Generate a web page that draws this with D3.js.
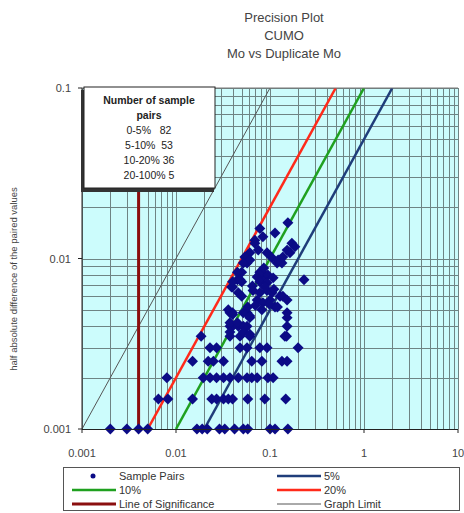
<!DOCTYPE html>
<html>
<head>
<meta charset="utf-8">
<script src="https://cdn.jsdelivr.net/npm/d3@7"></script>
<style>
  body { margin: 0; background: #fff; }
  text { font-family: Arial, "Liberation Sans", sans-serif; fill: #333; }
</style>
</head>
<body>
<svg id="chart" width="464" height="513"></svg>
<script>
// mean of pair (x) and half absolute difference (y)
var pairMean = [
  0.002, 0.003, 0.004, 0.005, 0.0167, 0.019, 0.0215, 0.029, 0.033, 0.042, 0.052, 0.058, 0.1, 0.113, 0.155,
  0.0065, 0.0082, 0.015, 0.024, 0.027, 0.032, 0.036, 0.040, 0.058, 0.088, 0.147,
  0.008, 0.0195, 0.023, 0.027, 0.032, 0.0375, 0.046, 0.057, 0.064, 0.073, 0.095, 0.108,
  0.015, 0.022, 0.025, 0.032, 0.064, 0.082, 0.134, 0.152,
  0.023, 0.027, 0.048, 0.057, 0.078, 0.093, 0.199,
  0.0185, 0.0375, 0.048, 0.061, 0.144, 0.15,
  0.0375, 0.040, 0.046, 0.057, 0.152, 0.052,
  0.061, 0.152, 0.0375, 0.045,
  0.0375, 0.040, 0.052, 0.057, 0.152, 0.036, 0.040, 0.061, 0.0375, 0.052, 0.061,
  0.066, 0.078, 0.093, 0.105, 0.128, 0.073, 0.084, 0.100, 0.113, 0.137, 0.152, 0.082,
  0.039, 0.045, 0.050, 0.057, 0.061, 0.069,
  0.040, 0.046, 0.050, 0.040, 0.050, 0.045, 0.048,
  0.078, 0.073, 0.084, 0.082, 0.095, 0.108, 0.078, 0.093, 0.23,
  0.054, 0.061, 0.052, 0.128, 0.119, 0.134, 0.105, 0.122,
  0.152, 0.137, 0.163, 0.171, 0.184, 0.069, 0.075, 0.093,
  0.084, 0.113, 0.078, 0.155,
  0.065, 0.088, 0.110, 0.070, 0.098, 0.120, 0.058, 0.086
];
var halfDiff = [
  0.001, 0.001, 0.001, 0.001, 0.001, 0.001, 0.001, 0.001, 0.001, 0.001, 0.001, 0.001, 0.001, 0.001, 0.001,
  0.0015, 0.0015, 0.0015, 0.0015, 0.0015, 0.0015, 0.0015, 0.0015, 0.0015, 0.0015, 0.0015,
  0.002, 0.002, 0.002, 0.002, 0.002, 0.002, 0.002, 0.002, 0.002, 0.002, 0.002, 0.002,
  0.0025, 0.0025, 0.0025, 0.0025, 0.0025, 0.0025, 0.0025, 0.0025,
  0.003, 0.003, 0.003, 0.003, 0.003, 0.003, 0.003,
  0.0035, 0.0035, 0.0035, 0.0035, 0.0035, 0.0035,
  0.004, 0.004, 0.004, 0.004, 0.004, 0.004,
  0.0045, 0.0045, 0.0042, 0.0042,
  0.0048, 0.0048, 0.0048, 0.0048, 0.0048, 0.005, 0.0047, 0.0046, 0.0037, 0.0037, 0.0036,
  0.0065, 0.0063, 0.0065, 0.0063, 0.006, 0.0057, 0.0055, 0.0057, 0.0052, 0.006, 0.0057, 0.005,
  0.0068, 0.0075, 0.0083, 0.0094, 0.0108, 0.0128,
  0.0068, 0.0063, 0.006, 0.0073, 0.0073, 0.0083, 0.0075,
  0.0083, 0.0078, 0.0078, 0.0083, 0.008, 0.0077, 0.0073, 0.0072, 0.0075,
  0.0102, 0.0098, 0.0094, 0.0098, 0.0094, 0.0094, 0.0101, 0.0098,
  0.0112, 0.0102, 0.0108, 0.0123, 0.0117, 0.0123, 0.0112, 0.0108,
  0.0134, 0.0141, 0.015, 0.0162,
  0.0069, 0.0068, 0.0066, 0.0053, 0.0054, 0.0052, 0.0052, 0.0088
];
var precisionPct = [0.05, 0.10, 0.20];
var precisionNames = ["5%", "10%", "20%"];
var significanceX = 0.004;
var xTickLabels = ["0.001", "0.01", "0.1", "1", "10"];
var yTickLabels = ["0.001", "0.01", "0.1"];
var boxLines = ["Number of sample", "pairs", "0-5%   82", "5-10%  53", "10-20% 36", "20-100% 5"];
var titleLines = ["Precision Plot", "CUMO", "Mo vs Duplicate Mo"];

var svg = d3.select("#chart");
var x = d3.scaleLog().domain([0.001, 10]).range([82, 458]);
var y = d3.scaleLog().domain([0.001, 0.1]).range([429, 88]);
var lineColors = {"5%": "#1f3d7a", "10%": "#1fa01f", "20%": "#ff2a1a"};

// title
svg.append("g").selectAll("text")
  .data(titleLines).enter().append("text")
  .attr("x", 284).attr("y", function(d, i) { return 22 + i * 18; })
  .attr("text-anchor", "middle")
  .style("font-size", "13px").style("fill", "#444")
  .text(function(d) { return d; });

// plot background
svg.append("rect")
  .attr("x", x(0.001)).attr("y", y(0.1))
  .attr("width", x(10) - x(0.001)).attr("height", y(0.001) - y(0.1))
  .attr("fill", "#ccfcfc");

// grid
var grid = svg.append("g").attr("stroke", "#6e8484").attr("stroke-width", 1);
grid.selectAll(".vg").data(x.ticks()).enter().append("line")
  .attr("x1", function(d) { return Math.round(x(d)) + 0.5; })
  .attr("x2", function(d) { return Math.round(x(d)) + 0.5; })
  .attr("y1", y(0.1)).attr("y2", y(0.001));
grid.selectAll(".hg").data(y.ticks()).enter().append("line")
  .attr("y1", function(d) { return Math.round(y(d)) + 0.5; })
  .attr("y2", function(d) { return Math.round(y(d)) + 0.5; })
  .attr("x1", x(0.001)).attr("x2", x(10));

svg.append("clipPath").attr("id", "plotclip").append("rect")
  .attr("x", x(0.001)).attr("y", y(0.1))
  .attr("width", x(10) - x(0.001)).attr("height", y(0.001) - y(0.1));

var lines = svg.append("g").attr("clip-path", "url(#plotclip)");

// graph limit y = x
lines.append("line")
  .attr("x1", x(0.001)).attr("y1", y(0.001))
  .attr("x2", x(0.1)).attr("y2", y(0.1))
  .attr("stroke", "#555").attr("stroke-width", 1);

// line of significance
lines.append("line")
  .attr("x1", x(significanceX)).attr("x2", x(significanceX))
  .attr("y1", y(0.001)).attr("y2", y(0.1))
  .attr("stroke", "#8b0f0f").attr("stroke-width", 3);

// precision lines y = p * x
precisionPct.forEach(function(p, i) {
  lines.append("line")
    .attr("x1", x(0.001 / p)).attr("y1", y(0.001))
    .attr("x2", x(0.1 / p)).attr("y2", y(0.1))
    .attr("stroke", lineColors[precisionNames[i]]).attr("stroke-width", 2.5);
});

// sample pairs
var pts = pairMean.map(function(d, i) { return [d, halfDiff[i]]; });
svg.append("g").selectAll("path")
  .data(pts).enter().append("path")
  .attr("d", d3.symbol().type(d3.symbolSquare).size(60))
  .attr("transform", function(d) { return "translate(" + x(d[0]) + "," + y(d[1]) + ") rotate(45)"; })
  .attr("fill", "#0b0b86");

// axes
svg.append("line").attr("x1", 82).attr("x2", 82).attr("y1", y(0.1)).attr("y2", y(0.001))
  .attr("stroke", "#222");
svg.append("line").attr("x1", x(0.001)).attr("x2", x(10)).attr("y1", 429.5).attr("y2", 429.5)
  .attr("stroke", "#222");
svg.append("line").attr("x1", x(0.001)).attr("x2", x(10)).attr("y1", y(0.1)).attr("y2", y(0.1))
  .attr("stroke", "#777");

svg.append("g").selectAll("line").data(xTickLabels).enter().append("line")
  .attr("x1", function(d) { return x(+d); }).attr("x2", function(d) { return x(+d); })
  .attr("y1", 429).attr("y2", 433).attr("stroke", "#222");
svg.append("g").selectAll("line").data(yTickLabels).enter().append("line")
  .attr("y1", function(d) { return y(+d); }).attr("y2", function(d) { return y(+d); })
  .attr("x1", 78).attr("x2", 82).attr("stroke", "#222");

svg.append("g").selectAll("text").data(xTickLabels).enter().append("text")
  .attr("x", function(d) { return x(+d); }).attr("y", 457)
  .attr("text-anchor", "middle").style("font-size", "11px").style("fill", "#444")
  .text(function(d) { return d; });
svg.append("g").selectAll("text").data(yTickLabels).enter().append("text")
  .attr("x", 71).attr("y", function(d) { return y(+d) + 4; })
  .attr("text-anchor", "end").style("font-size", "11px").style("fill", "#444")
  .text(function(d) { return d; });

svg.append("text")
  .attr("transform", "translate(17,279) rotate(-90)")
  .attr("text-anchor", "middle").style("font-size", "9.5px").style("fill", "#444")
  .text("half absolute difference of the paired values");

// count box
svg.append("rect").attr("x", 81).attr("y", 90).attr("width", 133).attr("height", 102).attr("fill", "#333");
svg.append("rect").attr("x", 84).attr("y", 87).attr("width", 131).attr("height", 101)
  .attr("fill", "#fff").attr("stroke", "#222").attr("stroke-width", 1);
svg.append("g").selectAll("text").data(boxLines).enter().append("text")
  .attr("x", 149).attr("y", function(d, i) { return 104 + i * 15; })
  .attr("text-anchor", "middle").style("font-size", "10.5px")
  .style("font-weight", function(d, i) { return i < 2 ? "bold" : "normal"; })
  .style("fill", "#222").style("white-space", "pre").attr("xml:space", "preserve")
  .text(function(d) { return d; });

// legend
var legend = svg.append("g");
legend.append("rect").attr("x", 63.5).attr("y", 467.5).attr("width", 396).attr("height", 43)
  .attr("fill", "#fff").attr("stroke", "#555");
var legendItems = [
  {name: "Sample Pairs", type: "dot", col: 0, row: 0},
  {name: "5%", type: "line", color: lineColors["5%"], w: 2.5, col: 1, row: 0},
  {name: "10%", type: "line", color: lineColors["10%"], w: 2.5, col: 0, row: 1},
  {name: "20%", type: "line", color: lineColors["20%"], w: 2.5, col: 1, row: 1},
  {name: "Line of Significance", type: "line", color: "#8b0f0f", w: 3, col: 0, row: 2},
  {name: "Graph Limit", type: "line", color: "#555", w: 1, col: 1, row: 2}
];
var colX = [72, 277];
legendItems.forEach(function(it) {
  var lx = colX[it.col], ly = 476 + it.row * 14;
  if (it.type === "dot") {
    legend.append("circle").attr("cx", lx + 21).attr("cy", ly).attr("r", 2.5).attr("fill", "#0b0b86");
  } else {
    legend.append("line").attr("x1", lx).attr("x2", lx + 44).attr("y1", ly).attr("y2", ly)
      .attr("stroke", it.color).attr("stroke-width", it.w);
  }
  legend.append("text").attr("x", lx + 47).attr("y", ly + 4)
    .style("font-size", "11px").style("fill", "#333").text(it.name);
});
</script>
</body>
</html>
